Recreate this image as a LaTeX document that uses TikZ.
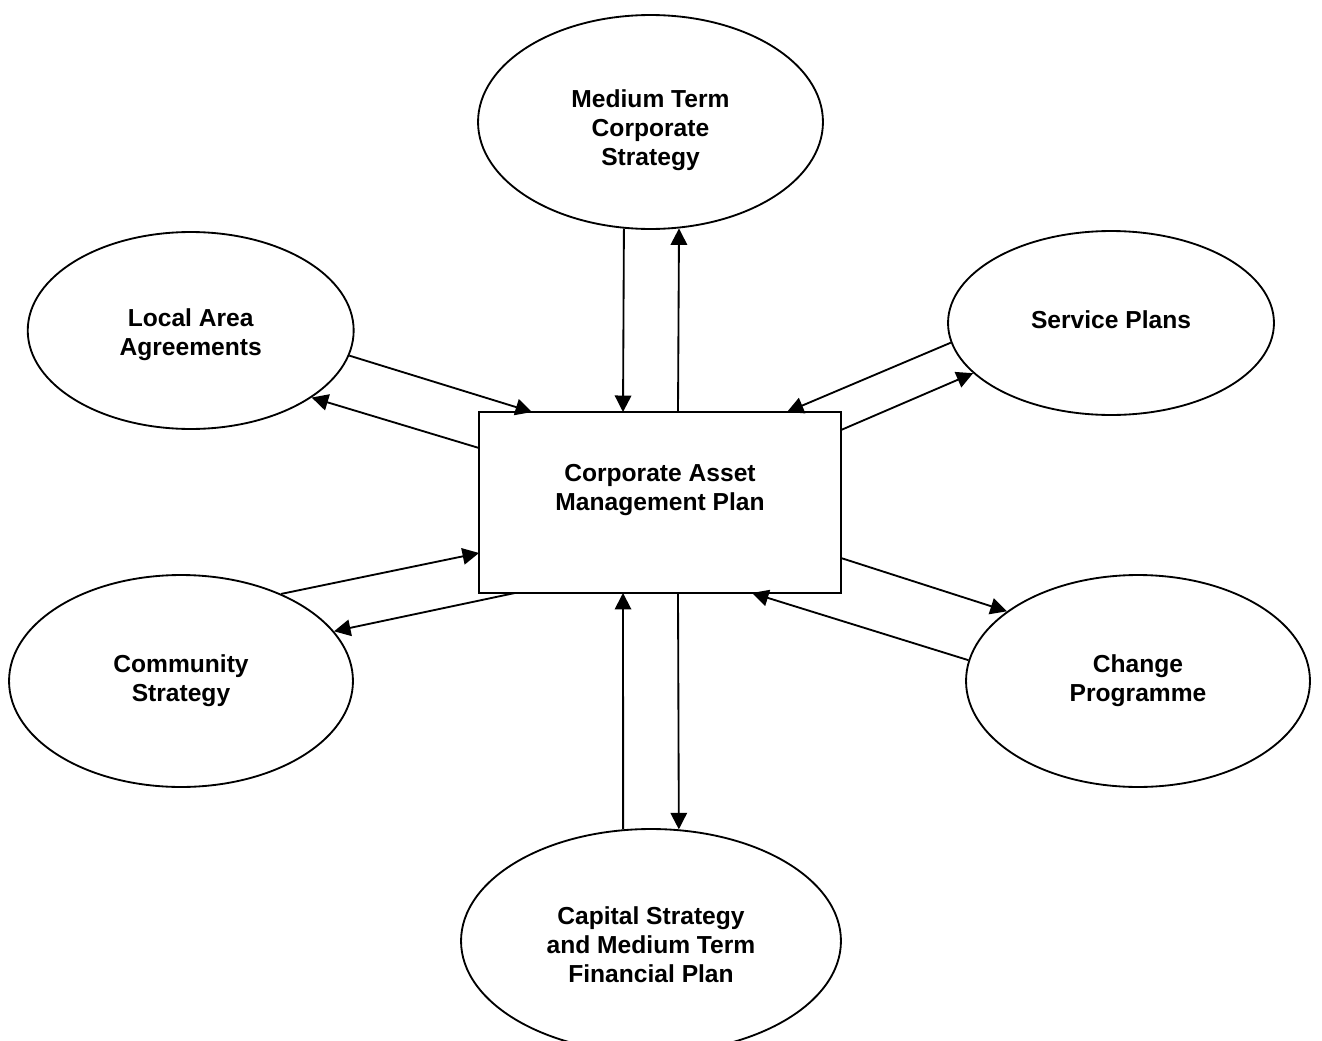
\documentclass[tikz,border=0pt]{standalone}
\usepackage{fontspec}
\setmainfont{Liberation Sans}
\usetikzlibrary{shapes.geometric,arrows.meta,calc}

\begin{document}
\begin{tikzpicture}[x=0.02cm, y=-0.02cm,
    -{Triangle[length=0.33cm,width=0.33cm]}, line width=1.05pt,
    font=\fontsize{14}{16.5}\selectfont\bfseries,
    oval/.style={ellipse, draw, inner sep=0pt},
    caption/.style={align=center},
    plan/.style={rectangle, draw, outer sep=0pt,
    minimum width=7.24cm, minimum height=3.62cm}
    ]
    \useasboundingbox (0,0) rectangle (1322,1041);
    \node[plan] (CAMP) at (660,502.5) {};
    \node[oval, minimum width=6.9cm, minimum height=4.28cm] (MTCS) at (650.5,122) {};
    \node[oval, minimum width=6.52cm, minimum height=3.94cm] (LAA) at (190.7,330.5) {};
    \node[oval, minimum width=6.52cm, minimum height=3.68cm] (SP) at (1111,323) {};
    \node[oval, minimum width=6.88cm, minimum height=4.24cm] (CS) at (181,681) {};
    \node[oval, minimum width=6.88cm, minimum height=4.24cm] (CP) at (1138,681) {};
    \node[oval, minimum width=7.6cm, minimum height=4.48cm] (CSF) at (651,941) {};
    % texts
    \node[caption] (CAMPtext) at ($(CAMP)+(0,-12)$) {Corporate Asset\\Management Plan};
    \node[caption] (MTCStext) at ($(MTCS)+(0,8)$) {Medium Term\\Corporate\\Strategy};
    \node[caption] (LAAtext) at ($(LAA)+(0,4)$) {Local Area\\Agreements};
    \node[caption] (SPtext) at ($(SP)+(0,-3)$) {Service Plans};
    \node[caption] (CStext) at (CS) {Community\\Strategy};
    \node[caption] (CPtext) at (CP) {Change\\Programme};
    \node[caption] (CSFtext) at ($(CSF)+(0,4)$) {Capital Strategy\\and Medium Term\\Financial Plan};
    % links to and from the plan
    \draw (LAA.-9.6) -- ($(CAMP.north west)+(53,0)$);
    \draw ($(CAMP.north west)+(0,36)$) -- (LAA.-29.8);
    \draw (SP.-173.7) -- ($(CAMP.north east)+(-54,0)$);
    \draw ($(CAMP.north east)+(0,18)$) -- (SP.200.6);
    \draw (CS.41.7) -- ($(CAMP.south west)+(0,-40)$);
    \draw ($(CAMP.south west)+(36,0)$) -- (CS.18.7);
    \draw ($(CAMP.south east)+(0,-35)$) -- (CP.152.4);
    \draw (CP.173.7) -- ($(CAMP.south east)+(-89,0)$);
    \draw (MTCS.-104.6) -- ($(CAMP.north)+(-37,0)$);
    \draw ($(CAMP.north)+(18,0)$) -- (MTCS.-75.4);
    \draw (CSF.104.2) -- ($(CAMP.south)+(-37,0)$);
    \draw ($(CAMP.south)+(18,0)$) -- (CSF.76.3);
\end{tikzpicture}
\end{document}
